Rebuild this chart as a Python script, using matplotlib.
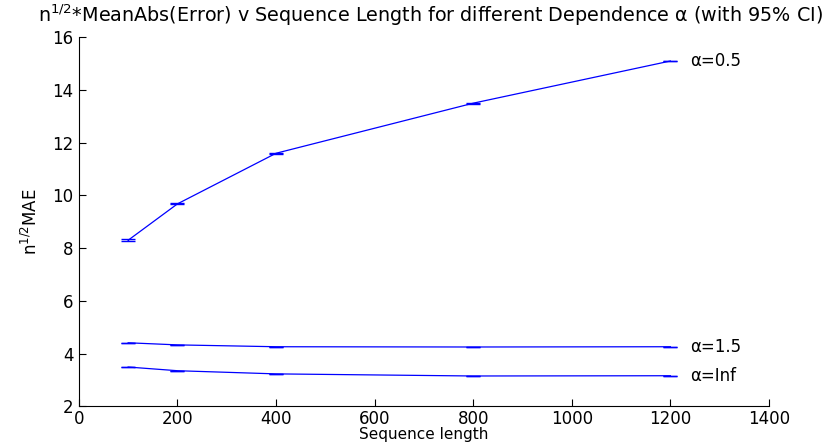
import matplotlib
matplotlib.use("Agg")
import matplotlib.pyplot as plt

plt.rcParams['font.family'] = ['DejaVu Sans']
plt.rcParams['mathtext.fontset'] = 'dejavusans'

seq_len = [100, 200, 400, 800, 1200]
mae_a05 = [8.30, 9.68, 11.60, 13.50, 15.10]
ci_a05 = [0.04, 0.02, 0.02, 0.015, 0.015]
mae_a15 = [4.41, 4.33, 4.26, 4.25, 4.26]
ci_a15 = [0.01, 0.008, 0.008, 0.008, 0.008]
mae_inf = [3.49, 3.35, 3.23, 3.15, 3.16]
ci_inf = [0.01, 0.008, 0.008, 0.008, 0.008]
labels = ['\u03b1=0.5', '\u03b1=1.5', '\u03b1=Inf']
title = r'$\mathregular{n^{1/2}}$*MeanAbs(Error) v Sequence Length for different Dependence ' + '\u03b1' + ' (with 95% CI)'

fig = plt.figure(figsize=(8.30, 4.46), dpi=100)
ax = fig.add_axes([0.095, 0.089, 0.8315, 0.8274])

for y, e, lab in [(mae_a05, ci_a05, labels[0]), (mae_a15, ci_a15, labels[1]), (mae_inf, ci_inf, labels[2])]:
    ax.errorbar(seq_len, y, yerr=e, color='#0000ff', lw=0.9, capsize=5, capthick=1.0, elinewidth=0.9)
    ax.text(seq_len[-1] + 40, y[-1], lab, fontsize=12, va='center', ha='left')

ax.set_xlim(0, 1400)
ax.set_ylim(2, 16)
ax.set_xticks(range(0, 1401, 200))
ax.set_yticks(range(2, 17, 2))
ax.tick_params(direction='in', length=5, labelsize=12, width=0.8, pad=4)
ax.tick_params(axis='x', pad=2.5)
for s in ['top', 'right']:
    ax.spines[s].set_visible(False)
for s in ['left', 'bottom']:
    ax.spines[s].set_linewidth(0.8)

ax.set_xlabel('Sequence length', fontsize=11, labelpad=-0.5)
ax.set_ylabel(r'$\mathregular{n^{1/2}MAE}$', fontsize=12, labelpad=8)
fig.text(0.519, 0.995, title, fontsize=13.8, ha='center', va='top')

fig.savefig('out.png', dpi=100)
